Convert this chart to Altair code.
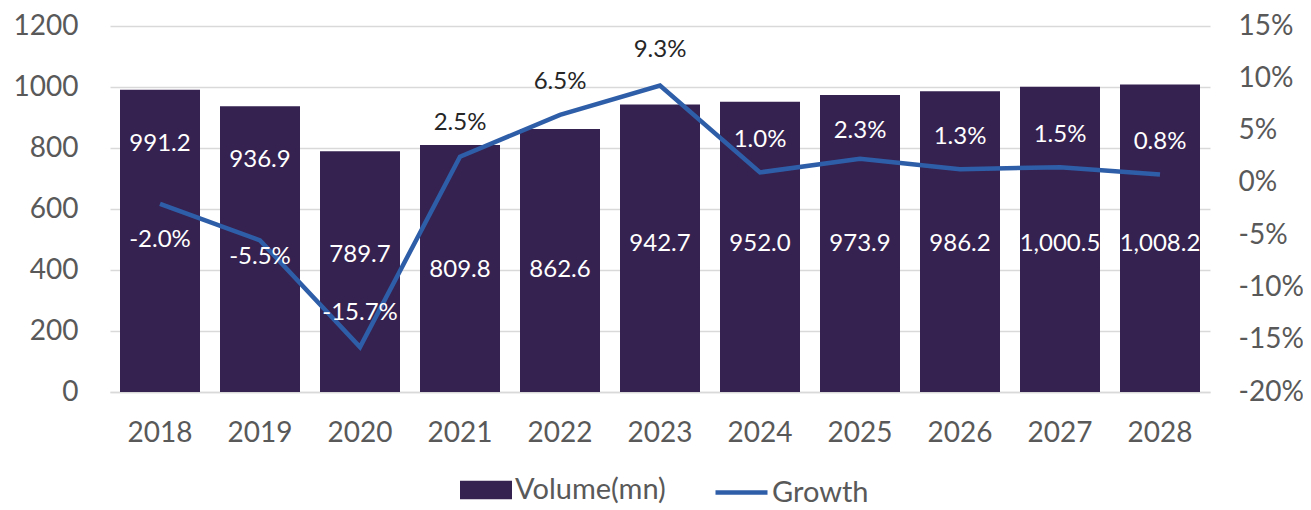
import altair as alt
import pandas as pd

years = ["2018", "2019", "2020", "2021", "2022", "2023", "2024", "2025", "2026", "2027", "2028"]
volume = [991.2, 936.9, 789.7, 809.8, 862.6, 942.7, 952.0, 973.9, 986.2, 1000.5, 1008.2]
growth = [-2.0, -5.5, -15.7, 2.5, 6.5, 9.3, 1.0, 2.3, 1.3, 1.5, 0.8]
# where each value label sits, in the units of its own axis
vol_label_at = [813, 761, 449, 400, 400, 485, 485, 485, 485, 485, 485]
growth_label_at = [-5.45, -7.1, -12.4, 5.7, 9.6, 12.7, 4.1, 5.0, 4.4, 4.6, 3.9]

df = pd.DataFrame({
    "year": years,
    "vol": volume,
    "growth": growth,
    "vlab": vol_label_at,
    "glab": growth_label_at,
})

FONT = "Lato"
BAR = "#352250"
LINE = "#2F5EA8"
AXC = "#595959"
GRID = "#D9D9D9"

x = alt.X("year:N", title=None,
          scale=alt.Scale(paddingInner=0.2, paddingOuter=0.1),
          axis=alt.Axis(labelAngle=0, labelFontSize=28, labelColor=AXC, labelFont=FONT,
                        ticks=False, domainColor=GRID, domainWidth=1.5, labelPadding=27))

vol_scale = alt.Scale(domain=[0, 1200], nice=False, zero=True)
g_scale = alt.Scale(domain=[-20, 15], nice=False, zero=False)

vol_axis = alt.Axis(values=[0, 200, 400, 600, 800, 1000, 1200], format="d", labelFontSize=28,
                    labelColor=AXC, labelFont=FONT, domain=False, ticks=False,
                    grid=True, gridColor=GRID, gridWidth=1.5, labelPadding=32)
g_axis = alt.Axis(orient="right", values=[-20, -15, -10, -5, 0, 5, 10, 15],
                  labelExpr="datum.value + '%'", labelFontSize=28, labelColor=AXC,
                  labelFont=FONT, domain=False, ticks=False, grid=False,
                  labelPadding=28)

base = alt.Chart(df)

bars = base.transform_calculate(series="'Volume(mn)'").mark_bar(size=80).encode(
    x=x,
    y=alt.Y("vol:Q", scale=vol_scale, title=None, axis=vol_axis),
    fill=alt.Fill("series:N",
                  scale=alt.Scale(domain=["Volume(mn)"], range=[BAR]),
                  legend=alt.Legend(orient="none", legendX=350, legendY=438, title=None,
                                    symbolType="M-1,-0.36H1V0.36H-1Z", symbolSize=2704,
                                    symbolStrokeWidth=0, labelFontSize=29, labelFont=FONT,
                                    labelColor=AXC, labelOffset=3)),
)

bar_text = base.mark_text(fontSize=24, font=FONT, color="white").encode(
    x=alt.X("year:N"),
    y=alt.Y("vlab:Q", scale=vol_scale, title=None, axis=vol_axis),
    text=alt.Text("vol:Q", format=",.1f"),
)

line = base.transform_calculate(series="'Growth'").mark_line(strokeWidth=4.5, strokeJoin="miter").encode(
    x=alt.X("year:N"),
    y=alt.Y("growth:Q", scale=g_scale, title=None, axis=g_axis),
    stroke=alt.Stroke("series:N",
                      scale=alt.Scale(domain=["Growth"], range=[LINE]),
                      legend=alt.Legend(orient="none", legendX=603, legendY=438, title=None,
                                        symbolType="stroke", symbolSize=2704,
                                        symbolStrokeWidth=4.5, labelFontSize=29,
                                        labelFont=FONT, labelColor=AXC, labelOffset=2)),
)

line_text = base.transform_calculate(
    above="(datum.glab + 20) / 35 * 1200 > datum.vol",
    glabel="(datum.growth < 0 ? '-' : '') + format(abs(datum.growth), '.1f') + '%'",
).mark_text(fontSize=24, font=FONT).encode(
    x=alt.X("year:N"),
    y=alt.Y("glab:Q", scale=g_scale, title=None, axis=g_axis),
    text="glabel:N",
    color=alt.condition("datum.above", alt.value("#262626"), alt.value("white")),
)

left = alt.layer(bars, bar_text)
right = alt.layer(line, line_text)

chart = alt.layer(left, right).resolve_scale(y="independent").properties(
    width=1100, height=366,
    padding={"left": 102, "top": 18, "right": 93, "bottom": 118},
    autosize=alt.AutoSizeParams(type="none"),
).configure_view(stroke=None)

chart.save("out.html", embed_options={"renderer": "svg", "actions": False})
